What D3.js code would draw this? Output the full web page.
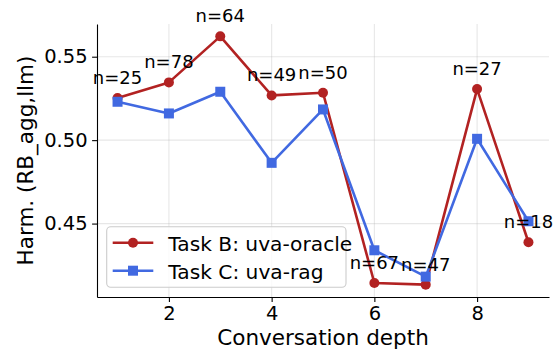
<!DOCTYPE html>
<html>
<head>
<meta charset="utf-8">
<script src="https://cdn.jsdelivr.net/npm/d3@7"></script>
<style>
  html, body { margin: 0; padding: 0; background: #fff; }
  svg { display: block; font-family: "DejaVu Sans", sans-serif; }
</style>
</head>
<body>
<svg id="chart" width="559" height="354"></svg>
<script>
const depths = [1, 2, 3, 4, 5, 6, 7, 8, 9];
const taskB = [0.5252, 0.5346, 0.5622, 0.5268, 0.5284, 0.4144, 0.4134, 0.5306, 0.4388];
const taskC = [0.5230, 0.5160, 0.5290, 0.4864, 0.5184, 0.4340, 0.4182, 0.5008, 0.4514];
const counts = [25, 78, 64, 49, 50, 67, 47, 27, 18];
const xTicks = [2, 4, 6, 8];
const yTicks = [0.45, 0.50, 0.55];
const seriesNames = ["Task B: uva-oracle", "Task C: uva-rag"];
const colors = ["#b22222", "#4169e1"];

const svg = d3.select("#chart");
const margin = {left: 97, right: 10, top: 24, bottom: 57};
const W = 559, H = 354;
const x = d3.scaleLinear().domain([0.6, 9.4]).range([margin.left, W - margin.right]);
const y = d3.scaleLinear().domain([0.4060, 0.5696]).range([H - margin.bottom, margin.top]);

// grid
const grid = svg.append("g");
grid.selectAll(".gx").data(xTicks).enter().append("line")
  .attr("x1", d => x(d)).attr("x2", d => x(d))
  .attr("y1", y.range()[0]).attr("y2", y.range()[1])
  .attr("stroke", "#b0b0b0").attr("stroke-opacity", 0.3).attr("stroke-width", 1.1);
grid.selectAll(".gy").data(yTicks).enter().append("line")
  .attr("x1", x.range()[0]).attr("x2", x.range()[1])
  .attr("y1", d => y(d)).attr("y2", d => y(d))
  .attr("stroke", "#b0b0b0").attr("stroke-opacity", 0.3).attr("stroke-width", 1.1);

// axes
const xAxis = d3.axisBottom(x).tickValues(xTicks).tickFormat(d3.format("d")).tickSizeInner(4.9).tickSizeOuter(0).tickPadding(4);
const yAxis = d3.axisLeft(y).tickValues(yTicks).tickFormat(d3.format(".2f")).tickSizeInner(4.9).tickSizeOuter(0).tickPadding(4.5);
const gx = svg.append("g").attr("transform", `translate(0,${y.range()[0]})`).call(xAxis);
const gy = svg.append("g").attr("transform", `translate(${x.range()[0]},0)`).call(yAxis);
[gx, gy].forEach(g => {
  g.select(".domain").attr("stroke", "#000").attr("stroke-width", 1.1);
  g.selectAll(".tick line").attr("stroke", "#000").attr("stroke-width", 1.1);
  g.selectAll(".tick text").attr("fill", "#000").style("font-size", "19.5px").style("font-family", "DejaVu Sans");
});

// axis labels
svg.append("text").attr("x", (x.range()[0] + x.range()[1]) / 2).attr("y", 345)
  .attr("text-anchor", "middle").style("font-size", "21.5px").text("Conversation depth");
svg.append("text").attr("transform", `translate(33,${(y.range()[0] + y.range()[1]) / 2}) rotate(-90)`)
  .attr("text-anchor", "middle").style("font-size", "21.5px").text("Harm. (RB_agg,llm)");

// lines
const series = [taskB, taskC];
const line = d3.line().x((d, i) => x(depths[i])).y(d => y(d));
series.forEach((s, k) => {
  svg.append("path").datum(s).attr("d", line).attr("fill", "none")
    .attr("stroke", colors[k]).attr("stroke-width", 2.6).attr("stroke-linejoin", "round");
});
// markers
svg.selectAll(".mB").data(taskB).enter().append("circle")
  .attr("cx", (d, i) => x(depths[i])).attr("cy", d => y(d)).attr("r", 5).attr("fill", colors[0]);
svg.selectAll(".mC").data(taskC).enter().append("rect")
  .attr("x", (d, i) => x(depths[i]) - 5).attr("y", d => y(d) - 5)
  .attr("width", 10).attr("height", 10).attr("fill", colors[1]);

// annotations
svg.selectAll(".ann").data(counts).enter().append("text")
  .attr("x", (d, i) => x(depths[i])).attr("y", (d, i) => y(taskB[i]) - 14)
  .attr("text-anchor", "middle").style("font-size", "18px").attr("fill", "#000")
  .text(d => "n=" + d);

// legend
const lg = svg.append("g");
lg.append("rect").attr("x", 106.7).attr("y", 226.7).attr("width", 239.3).attr("height", 60.6)
  .attr("rx", 4).attr("fill", "#fff").attr("fill-opacity", 0.8)
  .attr("stroke", "#cccccc").attr("stroke-width", 1.1);
const rowsY = [242.7, 270.7];
seriesNames.forEach((name, k) => {
  lg.append("line").attr("x1", 112.7).attr("x2", 153.3).attr("y1", rowsY[k]).attr("y2", rowsY[k])
    .attr("stroke", colors[k]).attr("stroke-width", 2.6);
  if (k === 0) {
    lg.append("circle").attr("cx", 133).attr("cy", rowsY[k]).attr("r", 5).attr("fill", colors[k]);
  } else {
    lg.append("rect").attr("x", 128).attr("y", rowsY[k] - 5).attr("width", 10).attr("height", 10).attr("fill", colors[k]);
  }
  lg.append("text").attr("x", 168.3).attr("y", rowsY[k] + 8)
    .style("font-size", "20.2px").attr("fill", "#000").text(name);
});
</script>
</body>
</html>
